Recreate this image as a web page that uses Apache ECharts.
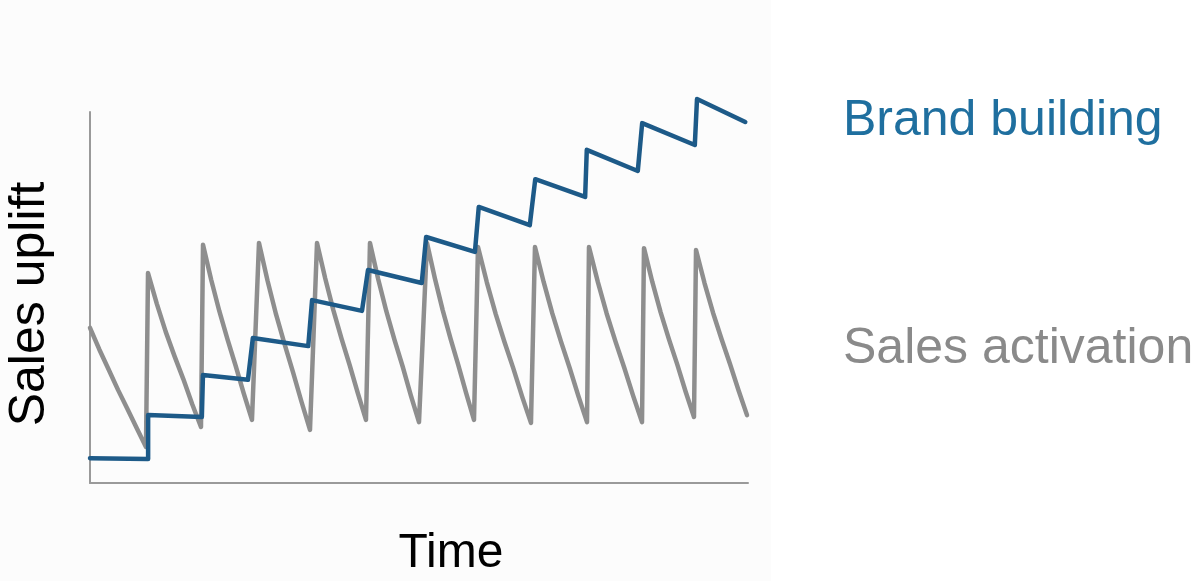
<!DOCTYPE html>
<html>
<head>
<meta charset="utf-8">
<title>Brand building vs sales activation</title>
<script src="https://cdn.jsdelivr.net/npm/echarts@6/dist/echarts.min.js"></script>
<style>
  html, body { margin: 0; padding: 0; background: #ffffff; }
  #chart { width: 1198px; height: 581px; }
</style>
</head>
<body>
<div id="chart"></div>
<script>
// Sales activation: short bursts that decay back down after each campaign
const activationTime = [
  0.0, 1.70, 3.40, 5.11, 6.81, 8.51, 10.21,
  10.58, 12.19, 13.80, 15.41, 17.02, 18.63, 20.24,
  20.61, 22.10, 23.59, 25.08, 26.56, 28.05, 29.54,
  30.82, 32.37, 33.92, 35.47, 37.02, 38.57, 40.12,
  41.40, 42.89, 44.38, 45.87, 47.35, 48.84, 50.33,
  51.06, 52.55, 54.04, 55.53, 57.02, 58.51, 60.00,
  61.46, 62.89, 64.32, 65.75, 67.17, 68.60, 70.03,
  70.76, 72.37, 73.98, 75.59, 77.20, 78.81, 80.42,
  81.15, 82.73, 84.31, 85.90, 87.48, 89.06, 90.64,
  91.00, 92.61, 94.22, 95.84, 97.45, 99.06, 100.67,
  101.03, 102.55, 104.07, 105.59, 107.11, 108.63, 110.15,
  110.52, 112.07, 113.62, 115.17, 116.72, 118.27, 119.82
];
const activationUplift = [
  41.8, 36.0, 30.6, 25.1, 20.0, 14.8, 9.7,
  56.6, 48.3, 40.8, 34.2, 28.0, 21.3, 15.1,
  64.2, 54.8, 46.3, 38.7, 31.6, 24.1, 17.0,
  64.7, 54.6, 45.5, 37.5, 29.9, 21.9, 14.3,
  64.7, 55.2, 46.6, 38.9, 31.8, 24.2, 17.0,
  64.7, 55.0, 46.3, 38.6, 31.4, 23.6, 16.4,
  64.7, 55.2, 46.6, 38.9, 31.8, 24.2, 17.0,
  63.6, 54.1, 45.6, 38.0, 30.9, 23.3, 16.2,
  63.6, 54.2, 45.7, 38.1, 31.0, 23.5, 16.4,
  63.6, 54.2, 45.7, 38.1, 31.0, 23.5, 16.4,
  63.3, 54.2, 46.0, 38.7, 31.9, 24.6, 17.8,
  62.8, 53.9, 45.9, 38.8, 32.1, 25.0, 18.3
];

// Brand building: each step up is partly kept, so the base keeps rising
const brandTime = [
  0.0, 10.6, 10.6, 20.4, 20.6, 28.8, 29.7, 39.8, 40.5, 49.6, 50.7, 60.5,
  61.3, 70.2, 70.9, 80.2, 81.2, 90.3, 90.6, 99.9, 100.7, 110.3, 110.7, 119.5
];
const brandUplift = [
  6.7, 6.5, 18.3, 17.8, 29.1, 27.8, 39.1, 36.9, 49.3, 46.4, 57.4, 53.9,
  66.3, 62.3, 74.4, 69.5, 81.9, 77.1, 89.8, 84.1, 97.0, 91.1, 103.5, 97.3
];

const seriesNames = ['Brand building', 'Sales activation'];
const axisNames = ['Time', 'Sales uplift'];

const zip = (xs, ys) => xs.map((x, i) => [x, ys[i]]);

const FONT = '"Liberation Sans", Arial, Helvetica, sans-serif';
const BLUE = '#1d5a88';
const BLUE_TEXT = '#1f6f9f';
const GREY = '#8e8e8e';
const GREY_TEXT = '#8a8a8a';

const chart = echarts.init(document.getElementById('chart'), null, { renderer: 'canvas' });

chart.setOption({
  animation: false,
  backgroundColor: '#ffffff',
  grid: { left: 90, right: 450, top: 112, bottom: 98, containLabel: false },
  xAxis: {
    type: 'value', min: 0, max: 120,
    axisLine: { show: true, lineStyle: { color: '#9a9a9a', width: 2 } },
    axisTick: { show: false }, axisLabel: { show: false }, splitLine: { show: false }
  },
  yAxis: {
    type: 'value', min: 0, max: 100,
    axisLine: { show: true, lineStyle: { color: '#9a9a9a', width: 2 } },
    axisTick: { show: false }, axisLabel: { show: false }, splitLine: { show: false }
  },
  graphic: [
    {
      type: 'rect', z: -10, silent: true,
      shape: { x: 0, y: 0, width: 771, height: 581 },
      style: { fill: '#fcfcfc' }
    },
    {
      type: 'text', left: 843, top: 96,
      style: { text: seriesNames[0], font: '50px ' + FONT, fill: BLUE_TEXT }
    },
    {
      type: 'text', left: 843, top: 324,
      style: { text: seriesNames[1], font: '50px ' + FONT, fill: GREY_TEXT }
    },
    {
      type: 'text', x: 451, y: 554,
      style: { text: axisNames[0], font: '48px ' + FONT, fill: '#000000', align: 'center', verticalAlign: 'middle' }
    },
    {
      type: 'text', x: 30, y: 304, rotation: Math.PI / 2,
      style: { text: axisNames[1], font: '50px ' + FONT, fill: '#000000', align: 'center', verticalAlign: 'middle' }
    }
  ],
  series: [
    {
      name: seriesNames[1], type: 'line', data: zip(activationTime, activationUplift),
      showSymbol: false, clip: false, smooth: false,
      lineStyle: { color: GREY, width: 4.5, join: 'round', cap: 'round' }, z: 2
    },
    {
      name: seriesNames[0], type: 'line', data: zip(brandTime, brandUplift),
      showSymbol: false, clip: false, smooth: false,
      lineStyle: { color: BLUE, width: 4.5, join: 'round', cap: 'round' }, z: 3
    }
  ]
});
</script>
</body>
</html>
